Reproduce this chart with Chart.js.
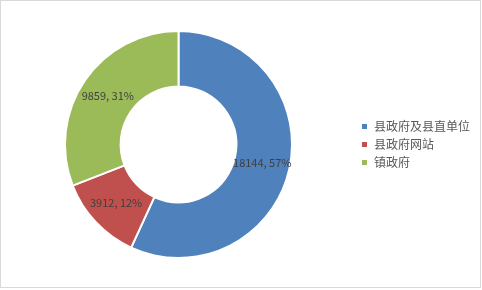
<!DOCTYPE html>
<html>
<head>
<meta charset="utf-8">
<script src="https://cdn.jsdelivr.net/npm/chart.js@4"></script>
<style>
    html, body { margin: 0; padding: 0; background: #fff; }
    #wrap { width: 479px; height: 286px; border: 1px solid #d9d9d9; position: relative; }
</style>
</head>
<body>
<div id="wrap"><canvas id="chart"></canvas></div>
<script>
// chart data
const categories = ['县政府及县直单位', '县政府网站', '镇政府'];
const counts = [18144, 3912, 9859];
const colors = ['#4F81BD', '#C0504D', '#9BBB59'];

// draw "value, pct%" in the middle of each slice
const sliceLabels = {
    id: 'sliceLabels',
    afterDatasetsDraw(chart) {
        const ctx = chart.ctx;
        const meta = chart.getDatasetMeta(0);
        const data = chart.data.datasets[0].data;
        const total = data.reduce((a, b) => a + b, 0);
        ctx.save();
        ctx.font = '11px "Noto Sans CJK SC", sans-serif';
        ctx.fillStyle = '#404040';
        ctx.textAlign = 'center';
        ctx.textBaseline = 'middle';
        meta.data.forEach((arc, i) => {
            const pos = arc.tooltipPosition();
            const pct = Math.round(data[i] / total * 100);
            ctx.fillText(`${data[i]}, ${pct}%`, pos.x, pos.y);
        });
        ctx.restore();
    }
};

new Chart(document.getElementById('chart'), {
    type: 'doughnut',
    data: {
        labels: categories,
        datasets: [{
            data: counts,
            backgroundColor: colors,
            borderColor: '#ffffff',
            borderWidth: 2
        }]
    },
    options: {
        responsive: true,
        maintainAspectRatio: false,
        animation: false,
        cutout: '51%',
        layout: { padding: { top: 29, bottom: 28, left: 1, right: 0 } },
        plugins: {
            tooltip: { enabled: false },
            legend: {
                position: 'right',
                labels: {
                    boxWidth: 7,
                    boxHeight: 7,
                    padding: 6,
                    color: '#595959',
                    font: { family: '"Noto Sans CJK SC", sans-serif', size: 12 }
                }
            }
        }
    },
    plugins: [sliceLabels]
});
</script>
</body>
</html>
